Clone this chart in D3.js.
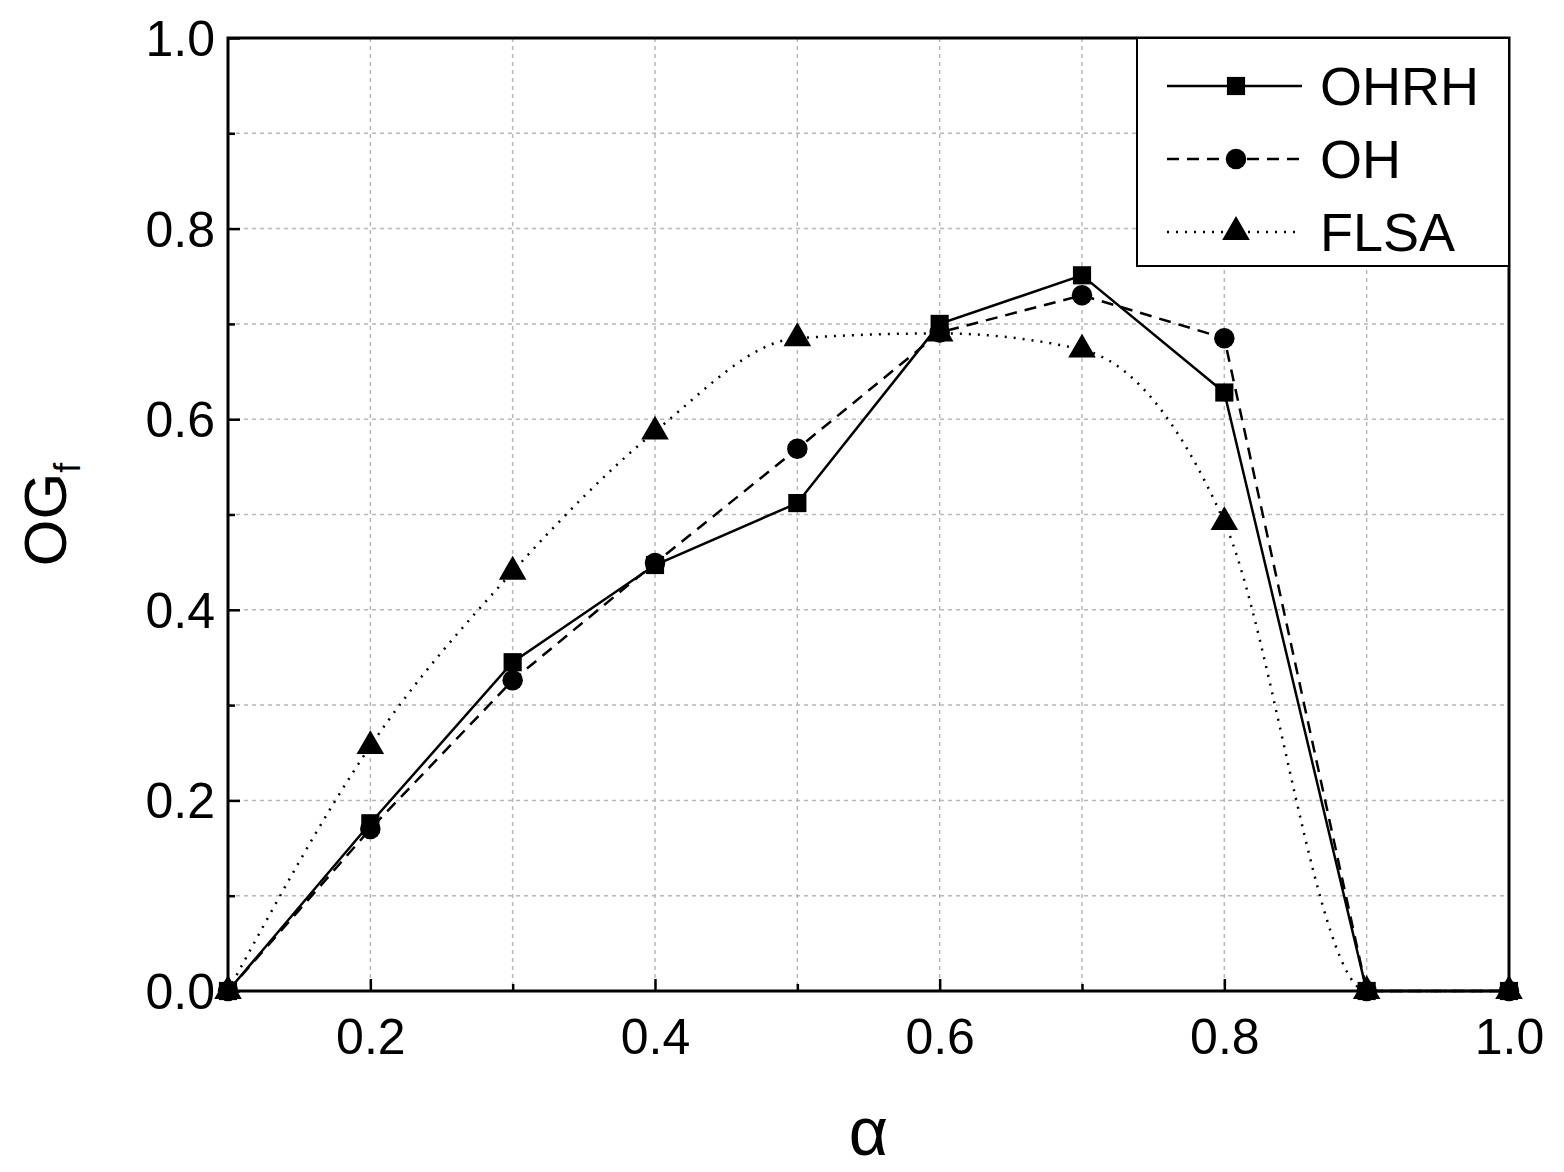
<!DOCTYPE html>
<html><head><meta charset="utf-8">
<script src="https://cdn.jsdelivr.net/npm/d3@7"></script>
<style>body{margin:0;background:#fff}text{font-family:Arial,"Liberation Sans",sans-serif}</style>
</head><body><svg id="c" width="1564" height="1172"></svg>
<script>
// alpha values and series
const alphas = [0.1, 0.2, 0.3, 0.4, 0.5, 0.6, 0.7, 0.8, 0.9, 1.0];
const ohrh = [0, 0.176, 0.345, 0.447, 0.512, 0.700, 0.751, 0.628, 0, 0];
const oh = [0, 0.170, 0.326, 0.449, 0.569, 0.691, 0.730, 0.685, 0, 0];
const flsa = [0, 0.257, 0.440, 0.587, 0.685, 0.690, 0.673, 0.492, 0, 0];
const xTicks = [0.2, 0.4, 0.6, 0.8, 1.0];
const yTicks = [0.0, 0.2, 0.4, 0.6, 0.8, 1.0];

const svg = d3.select('#c');
const m = { left: 228, right: 1509, top: 38, bottom: 991 };
const x = d3.scaleLinear().domain([0.1, 1.0]).range([m.left, m.right]);
const y = d3.scaleLinear().domain([0, 1]).range([m.bottom, m.top]);

// grid every 0.1
const grid = svg.append('g').attr('stroke', '#b8b8b8').attr('stroke-width', 1.5).attr('stroke-dasharray', '4,4');
d3.range(2, 10).map(i => i / 10).forEach(v => {
    grid.append('line').attr('x1', x(v)).attr('x2', x(v)).attr('y1', m.top).attr('y2', m.bottom);
});
d3.range(1, 10).map(i => i / 10).forEach(v => {
    grid.append('line').attr('x1', m.left).attr('x2', m.right).attr('y1', y(v)).attr('y2', y(v));
});

// axes
const isMajor = (ticks, d) => ticks.some(t => Math.abs(t - d) < 1e-9);
const xa = svg.append('g').attr('transform', `translate(0,${m.bottom})`)
    .call(d3.axisBottom(x).tickValues(d3.range(1, 11).map(i => i / 10)).tickSize(-12)
        .tickFormat(d => isMajor(xTicks, d) ? d3.format('.1f')(d) : ''));
const ya = svg.append('g').attr('transform', `translate(${m.left},0)`)
    .call(d3.axisLeft(y).tickValues(d3.range(0, 11).map(i => i / 10)).tickSize(-12)
        .tickFormat(d => isMajor(yTicks, d) ? d3.format('.1f')(d) : ''));
[xa, ya].forEach(a => {
    a.select('.domain').remove();
    a.selectAll('line').attr('stroke', '#000').attr('stroke-width', 2.5);
    a.selectAll('text').attr('font-size', 50).attr('fill', '#000');
});
xa.selectAll('.tick line').attr('y2', d => isMajor(xTicks, d) ? -12 : -7);
ya.selectAll('.tick line').attr('x2', d => isMajor(yTicks, d) ? 12 : 7);
xa.selectAll('text').attr('dy', '1.2em');
ya.selectAll('text').attr('dx', '-0.2em').attr('dy', '0.35em');

svg.append('rect').attr('x', m.left).attr('y', m.top).attr('width', m.right - m.left).attr('height', m.bottom - m.top)
    .attr('fill', 'none').attr('stroke', '#000').attr('stroke-width', 3);

// series
const series = [
    { name: 'OHRH', vals: ohrh, dash: null, curve: d3.curveLinear, sym: d3.symbolSquare, size: 330 },
    { name: 'OH', vals: oh, dash: '12,8', curve: d3.curveLinear, sym: d3.symbolCircle, size: 330 },
    { name: 'FLSA', vals: flsa, dash: '2,7', curve: d3.curveMonotoneX, sym: d3.symbolTriangle, size: 330 }
];
series.forEach(s => {
    const pts = alphas.map((a, i) => [a, s.vals[i]]);
    svg.append('path').attr('d', d3.line().x(d => x(d[0])).y(d => y(d[1])).curve(s.curve)(pts))
        .attr('fill', 'none').attr('stroke', '#000').attr('stroke-width', 2.5).attr('stroke-dasharray', s.dash);
    svg.selectAll(null).data(pts).enter().append('path')
        .attr('transform', d => `translate(${x(d[0])},${y(d[1])})`)
        .attr('d', d3.symbol().type(s.sym).size(s.size));
});

// legend
const lg = svg.append('g');
lg.append('rect').attr('x', 1137).attr('y', m.top).attr('width', m.right - 1137).attr('height', 228)
    .attr('fill', '#fff').attr('stroke', '#000').attr('stroke-width', 2);
series.forEach((s, i) => {
    const cy = 86 + i * 73;
    lg.append('line').attr('x1', 1167).attr('x2', 1302).attr('y1', cy).attr('y2', cy)
        .attr('stroke', '#000').attr('stroke-width', 2.5).attr('stroke-dasharray', s.dash);
    lg.append('path').attr('transform', `translate(1236,${cy})`).attr('d', d3.symbol().type(s.sym).size(s.size));
    lg.append('text').attr('x', 1320).attr('y', cy).attr('dy', '0.36em').attr('font-size', 54).text(s.name);
});

// axis titles
svg.append('text').attr('x', x(0.55)).attr('y', 1155).attr('text-anchor', 'middle')
    .attr('font-family', 'Times New Roman, Liberation Serif, serif').attr('font-size', 68).text('α');
const yt = svg.append('text').attr('transform', `translate(66,${y(0.5)}) rotate(-90)`).attr('text-anchor', 'middle').attr('font-size', 60);
yt.append('tspan').text('OG');
yt.append('tspan').attr('font-size', 36).attr('dy', 14).text('f');
</script></body></html>
